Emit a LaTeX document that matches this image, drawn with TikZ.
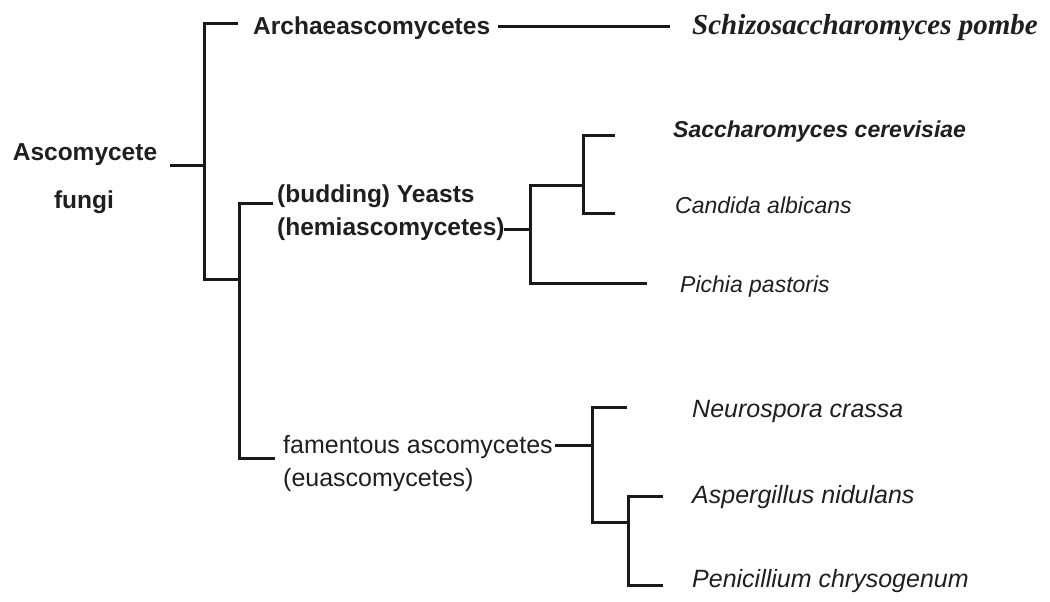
\documentclass[tikz,border=0pt]{standalone}
\usepackage{fontspec}
\setmainfont{Liberation Sans}
\newfontfamily\speciesserif{Liberation Serif}
\begin{document}
\begin{tikzpicture}[x=1pt,y=-1pt,
  branch/.style={draw=black!90, line width=3pt, line join=miter},
  lbl/.style={inner sep=0pt, anchor=base west, text=black!88, font=\fontsize{25}{30}\selectfont},
  lblbold/.style={lbl, font=\fontsize{24.5}{30}\selectfont\bfseries},
  spbig/.style={lbl, font=\fontsize{25}{30}\selectfont\itshape},
  spsmall/.style={lbl, font=\fontsize{23}{28}\selectfont\itshape},
  spsmallbold/.style={lbl, font=\fontsize{23}{28}\selectfont\bfseries\itshape},
  spserif/.style={lbl, font=\fontsize{29}{34}\selectfont\speciesserif\bfseries\itshape}]
\useasboundingbox (0,0) rectangle (1050,602);

% labels
\node[lblbold, anchor=base] (asco) at (85,160) {Ascomycete};
\node[lblbold, anchor=base] (fungi) at (84,208) {fungi};
\node[lblbold] (arch) at (253,35) {Archaeascomycetes};
\node[spserif] (pombe) at (692,35) {Schizosaccharomyces pombe};
\node[lblbold] (yeast1) at (277,202) {(budding) Yeasts};
\node[lblbold] (yeast2) at (277,235) {(hemiascomycetes)};
\node[spsmallbold] (scer) at (673,137) {Saccharomyces cerevisiae};
\node[spsmall] (calb) at (675,213) {Candida albicans};
\node[spsmall] (ppas) at (680,292) {Pichia pastoris};
\node[lbl] (fam1) at (283,453) {famentous ascomycetes};
\node[lbl] (fam2) at (283,486) {(euascomycetes)};
\node[spbig] (ncra) at (692,417) {Neurospora crassa};
\node[spbig] (anid) at (692,503) {Aspergillus nidulans};
\node[spbig] (pchr) at (692,587) {Penicillium chrysogenum};

% junction coordinates
\coordinate (root0) at (170,165);
\coordinate (root1) at (204,165);
\coordinate (topA) at (238,24);
\coordinate (topJ) at (204,24);
\coordinate (botJ) at (204,279);
\coordinate (botA) at (239,279);
\coordinate (archR) at (498,27);
\coordinate (pombeL) at (670,27);
\coordinate (yA) at (273,203);
\coordinate (yJ) at (239,203);
\coordinate (fJ) at (239,458);
\coordinate (fA) at (275,458);
\coordinate (yeR) at (504,229);
\coordinate (yeJ) at (530,229);
\coordinate (yTopJ) at (530,185);
\coordinate (yTopA) at (583,185);
\coordinate (yBotJ) at (530,283);
\coordinate (ppasL) at (647,283);
\coordinate (sTopJ) at (583,135);
\coordinate (scerL) at (615,135);
\coordinate (sBotJ) at (583,213);
\coordinate (calbL) at (615,213);
\coordinate (famR) at (555,445);
\coordinate (famJ) at (592,445);
\coordinate (nTopJ) at (592,407);
\coordinate (ncraL) at (627,407);
\coordinate (nBotJ) at (592,522);
\coordinate (nBotA) at (628,522);
\coordinate (aTopJ) at (628,496);
\coordinate (anidL) at (663,496);
\coordinate (aBotJ) at (628,585);
\coordinate (pchrL) at (663,585);

% branches
\draw[branch] (root0) -- (root1);
\draw[branch] (topA) -- (topJ) -- (botJ) -- (botA);
\draw[branch] (archR) -- (pombeL);
\draw[branch] (yA) -- (yJ) -- (fJ) -- (fA);
\draw[branch] (yeR) -- (yeJ);
\draw[branch] (yTopA) -- (yTopJ) -- (yBotJ) -- (ppasL);
\draw[branch] (scerL) -- (sTopJ) -- (sBotJ) -- (calbL);
\draw[branch] (famR) -- (famJ);
\draw[branch] (ncraL) -- (nTopJ) -- (nBotJ) -- (nBotA);
\draw[branch] (anidL) -- (aTopJ) -- (aBotJ) -- (pchrL);
\end{tikzpicture}
\end{document}
